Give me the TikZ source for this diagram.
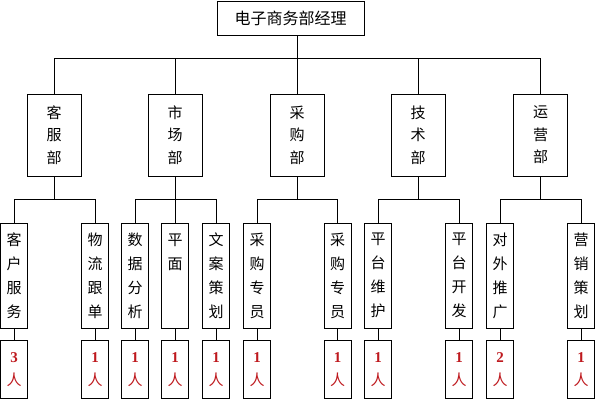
\documentclass[tikz,border=0pt]{standalone}
\usepackage{fontspec}
\setmainfont{Liberation Serif}
\newfontfamily\cjk{Noto Sans CJK SC}
\usepackage{xcolor}
\usetikzlibrary{positioning}
\definecolor{cntred}{RGB}{190,25,30}

\begin{document}
\begin{tikzpicture}[x=1pt, y=-1pt, line width=0.8pt,
    font=\cjk\fontsize{15}{22.5}\selectfont,
    dept/.style={draw, minimum width=54pt, minimum height=82pt, inner sep=0pt, align=center},
    post/.style={draw, minimum width=27pt, minimum height=105pt, inner sep=0pt, align=center,
      font=\cjk\fontsize{15}{24}\selectfont},
    count/.style={draw, minimum width=27pt, minimum height=58pt, inner sep=0pt, align=center,
      text=cntred, font=\fontsize{15}{23}\selectfont}]
    \useasboundingbox (0,0) rectangle (596,400);

    % Manager and departments
    \node[draw, minimum width=147pt, minimum height=34pt, inner sep=0pt, font=\cjk\fontsize{16}{19}\selectfont] (mgr) at (290.5,18) {电子商务部经理};
    \node[dept] (kf) at (54,135) {客\\服\\部};
    \node[dept] (sc) at (175,135) {市\\场\\部};
    \node[dept] (cg) at (297,135) {采\\购\\部};
    \node[dept] (js) at (418,135) {技\\术\\部};
    \node[dept] (yy) at (540.5,135) {运\\营\\部};

    % Posts
    \node[post] (kf1) at (14,275.5) {客\\户\\服\\务};
    \node[post] (kf2) at (95,275.5) {物\\流\\跟\\单};
    \node[post] (sc1) at (135,275.5) {数\\据\\分\\析};
    \node[post] (sc2) at (175,275.5) {平\\面\\~\\~};
    \node[post] (sc3) at (216,275.5) {文\\案\\策\\划};
    \node[post] (cg1) at (257,275.5) {采\\购\\专\\员};
    \node[post] (cg2) at (337.5,275.5) {采\\购\\专\\员};
    \node[post] (js1) at (378,275.5) {平\\台\\维\\护};
    \node[post] (js2) at (459,275.5) {平\\台\\开\\发};
    \node[post] (yy1) at (500,275.5) {对\\外\\推\\广};
    \node[post] (yy2) at (581,275.5) {营\\销\\策\\划};

    % Head counts
    \node[count, below=12pt of kf1] (kf1n) {\textbf{3}\\{\cjk 人}};
    \node[count, below=12pt of kf2] (kf2n) {\textbf{1}\\{\cjk 人}};
    \node[count, below=12pt of sc1] (sc1n) {\textbf{1}\\{\cjk 人}};
    \node[count, below=12pt of sc2] (sc2n) {\textbf{1}\\{\cjk 人}};
    \node[count, below=12pt of sc3] (sc3n) {\textbf{1}\\{\cjk 人}};
    \node[count, below=12pt of cg1] (cg1n) {\textbf{1}\\{\cjk 人}};
    \node[count, below=12pt of cg2] (cg2n) {\textbf{1}\\{\cjk 人}};
    \node[count, below=12pt of js1] (js1n) {\textbf{1}\\{\cjk 人}};
    \node[count, below=12pt of js2] (js2n) {\textbf{1}\\{\cjk 人}};
    \node[count, below=12pt of yy1] (yy1n) {\textbf{2}\\{\cjk 人}};
    \node[count, below=12pt of yy2] (yy2n) {\textbf{1}\\{\cjk 人}};

    % Manager to departments
    \draw (mgr.south -| cg.north) -- (cg.north);
    \draw (kf.north) -- ++(0,-35) -| (yy.north);
    \draw (sc.north) -- ++(0,-35);
    \draw (js.north) -- ++(0,-35);

    % Departments to posts
    \draw (kf.south) -- ++(0,24);
    \draw (kf1.north) -- ++(0,-23) -| (kf2.north);
    \draw (sc.south) -- (sc2.north);
    \draw (sc1.north) -- ++(0,-23) -| (sc3.north);
    \draw (cg.south) -- ++(0,24);
    \draw (cg1.north) -- ++(0,-23) -| (cg2.north);
    \draw (js.south) -- ++(0,24);
    \draw (js1.north) -- ++(0,-23) -| (js2.north);
    \draw (yy.south) -- ++(0,24);
    \draw (yy1.north) -- ++(0,-23) -| (yy2.north);

    % Posts to head counts
    \draw (kf1) -- (kf1n);
    \draw (kf2) -- (kf2n);
    \draw (sc1) -- (sc1n);
    \draw (sc2) -- (sc2n);
    \draw (sc3) -- (sc3n);
    \draw (cg1) -- (cg1n);
    \draw (cg2) -- (cg2n);
    \draw (js1) -- (js1n);
    \draw (js2) -- (js2n);
    \draw (yy1) -- (yy1n);
    \draw (yy2) -- (yy2n);
\end{tikzpicture}
\end{document}
